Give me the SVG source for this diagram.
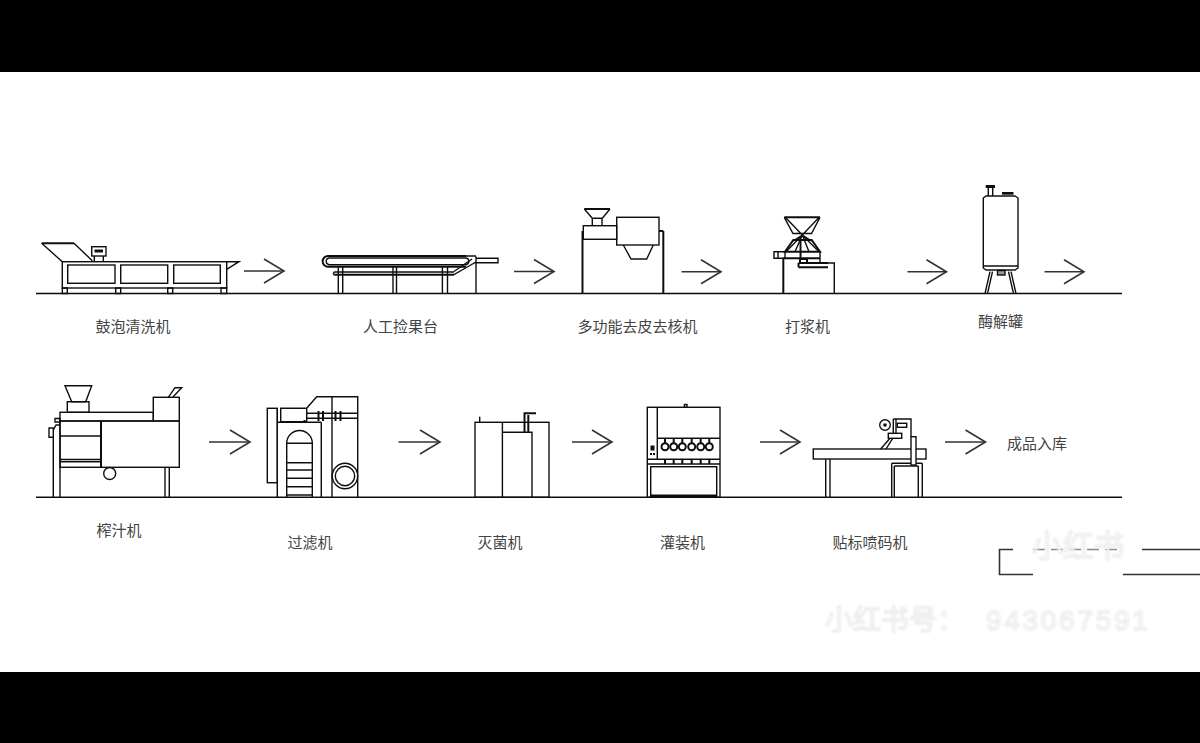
<svg xmlns="http://www.w3.org/2000/svg" width="1200" height="743" viewBox="0 0 1200 743">
<style>
.l{fill:none;stroke:#111;stroke-width:1.4;stroke-linejoin:miter}
.t{stroke-width:2}
.d{fill:#111;stroke:none}
.a{fill:none;stroke:#333;stroke-width:1.6}
.x{font-family:"Noto Sans CJK SC","Liberation Serif",sans-serif;font-size:15px;font-weight:400;fill:#444;text-anchor:middle}
.wm{font-family:"Liberation Sans","Noto Sans CJK SC",sans-serif;fill:#fff;stroke:#e2e2e2;stroke-width:1}
</style>
<defs>
<marker id="arr" markerUnits="userSpaceOnUse" markerWidth="26" markerHeight="30" viewBox="-23 -15 26 30" refX="0" refY="0" orient="auto">
<path d="M-20-12L0 0L-20 12" fill="none" stroke="#333" stroke-width="1.6"/>
</marker>
<filter id="soft" x="-2%" y="-2%" width="104%" height="104%"><feGaussianBlur stdDeviation="0.35"/></filter>
<filter id="softer" x="-5%" y="-20%" width="110%" height="140%"><feGaussianBlur stdDeviation="0.8"/></filter>
</defs>
<rect width="1200" height="743" fill="#fff"/>
<rect width="1200" height="72" fill="#000"/>
<rect y="672" width="1200" height="71" fill="#000"/>
<g filter="url(#soft)">
<g id="ground" class="l">
<path d="M36 293.5H1122M36 497.3H1122"/>
</g>
<g id="connectors" class="a">
<line x1="244" y1="271" x2="284" y2="271" marker-end="url(#arr)"/>
<line x1="514" y1="271.5" x2="554" y2="271.5" marker-end="url(#arr)"/>
<line x1="681.5" y1="271.7" x2="721" y2="271.7" marker-end="url(#arr)"/>
<line x1="907.5" y1="271.7" x2="946.5" y2="271.7" marker-end="url(#arr)"/>
<line x1="1044.5" y1="271.7" x2="1084" y2="271.7" marker-end="url(#arr)"/>
<line x1="209" y1="442" x2="250" y2="442" marker-end="url(#arr)"/>
<line x1="398.5" y1="442" x2="440" y2="442" marker-end="url(#arr)"/>
<line x1="572" y1="442" x2="612" y2="442" marker-end="url(#arr)"/>
<line x1="760" y1="442" x2="800" y2="442" marker-end="url(#arr)"/>
<line x1="945" y1="442" x2="985.5" y2="442" marker-end="url(#arr)"/>
</g>
<g id="washer" class="l">
<path class="t" d="M41.7 243.3H74"/>
<path d="M41.7 243.3L62.3 261.7M74 243.3L92.3 260.7"/>
<rect x="62.3" y="261.7" width="164.4" height="26.3"/>
<rect x="67.7" y="265" width="47.3" height="18.3"/>
<rect x="120.7" y="265" width="47" height="18.3"/>
<rect x="173.7" y="265" width="46.6" height="18.3"/>
<path d="M226.7 261.7H239L226.7 269.3"/>
<path d="M62.3 288h5v5.5h-5zM115.7 288h5v5.5h-5zM167.7 288h5v5.5h-5zM221 288h5.7v5.5H221z"/>
<rect x="91.7" y="246.7" width="14.3" height="9.3"/>
<path d="M94.3 256V261.7M103.3 256V261.7"/>
<rect class="d" x="94.5" y="249.5" width="8.5" height="3"/>
</g>
<g id="sorting-table" class="l">
<path class="t" d="M466 256H328a5.3 5.3 0 0 0 0 10.7H466"/>
<path d="M466 258H329a3.4 3.4 0 0 0 0 6.7H466a3.4 3.4 0 0 0 0-6.7"/>
<path d="M476 256.5V293.5M466 256H476M476 262L454 274.5H335M476 258.3H498V262.7H474M454 271.5L472 259M335 272H454M335 272a1.5 1.5 0 0 0 0 3H454"/>
<path d="M338.3 267V293.5M342.7 267V293.5M393 267V293.5M396.5 267V293.5M442.4 267V293.5M447.5 267V293.5"/>
</g>
<g id="peeler" class="l">
<path class="t" d="M584.3 209H610"/>
<path d="M584.3 209L592.3 218.3H602.3L610 209M592.3 218.3V225.7M602 218.3V225.7"/>
<rect x="583.3" y="225.7" width="33.4" height="13.6"/>
<rect x="616.7" y="217.3" width="42.3" height="27.7"/>
<path d="M623.3 245L631 259H646.7L653.3 245"/>
<path class="t" d="M582.5 231V293.5M663.3 231V293.5M659 231H663.3"/>
</g>
<g id="pulper" class="l">
<path class="t" d="M784.3 217.3H820"/>
<path d="M784.3 217.3L793 233.5H811.5L820 217.3M786 218L802.3 235L818.5 218M802.3 235L793 241M802.3 235L811.7 241M802.3 235L786 251.7M802.3 235L795 251.7M802.3 235L809 251.7M802.3 235L819 251.7"/>
<path class="t" d="M793.3 240H811.7L820 251.7H785ZM800.5 240V258M783.3 258.3H820M783.3 258.3V293.5"/>
<path d="M774 251.7H785V258.3H774ZM778 251.7V258.3M820 251.7V263M828 263H834.3V293.5"/>
<path class="t" d="M798.5 263H828M798.5 267.3H828M798.5 263V267.3M800 259H807V263H800Z"/>
</g>
<g id="enzyme-tank" class="l">
<path d="M983.3 198L986 196H1015L1018 198V268L1015 270H986L983.3 268Z"/>
<path d="M983.3 266H1018M988.3 188V196M992.7 188V196M990 271.7L985 293.5M992.5 271.7L987.5 293.5M1011 271.7L1016 293.5M1008.5 271.7L1013.5 293.5"/>
<rect class="d" x="985.7" y="185" width="9.3" height="3"/>
<rect class="d" x="1002" y="192" width="11.5" height="2.7"/>
<rect x="997.5" y="270.5" width="7.5" height="4.5" fill="#999"/>
</g>
<g id="juicer" class="l">
<path d="M65 385.7H91.7L85.7 401.7H71.7Z"/>
<rect x="67.3" y="401.7" width="21.7" height="10.6"/>
<rect x="60" y="412.3" width="93.3" height="8.7"/>
<rect x="153.3" y="397.3" width="26" height="23.7"/>
<path d="M168.3 397.3L175 387.7H181.7L172.7 397.3"/>
<rect x="60" y="421" width="119.3" height="46.3"/>
<path d="M60 436H101M60 459.5H101M60 461.7H101"/>
<path class="t" d="M101 421V467.3"/>
<circle cx="109.7" cy="473.5" r="6"/>
<path d="M165 467.3V497.3M169.3 467.3V497.3M53.3 437.5V497.3M60 421V497.3"/>
<path d="M49 428H53.3V437.3H49ZM53.3 430L56 425H60M55 422H60V418.5H55Z"/>
</g>
<g id="filter-machine" class="l">
<rect x="267.3" y="408.3" width="10" height="74.4"/>
<path d="M277.3 422.3H321.3M277.3 408V497.3M321.3 422.3V497.3"/>
<path d="M286.7 497.3V443.3A12.8 12.8 0 0 1 312.3 443.3V497.3M286.7 443.3H312.3M286.7 462.7H312.3M286.7 470H312.3M286.7 478.3H312.3M286.7 486.7H312.3M286.7 495H312.3"/>
<path d="M280.7 408.3H306.7V421.7H280.7ZM306.7 408.3L316.7 396.7H357.7V497.3M332 396.7V497.3M306.7 413.3H357.7M306.7 418.3H357.7"/>
<path class="t" d="M318.5 411V421M323 411V421M335.5 411V421M340.5 411V421"/>
<circle cx="345" cy="476" r="12.7"/>
<circle cx="345" cy="476" r="9.7"/>
<path class="t" d="M304.5 420V422.3"/>
</g>
<g id="sterilizer" class="l">
<rect x="475" y="422.3" width="74" height="75"/>
<path d="M502.4 422.3V497.3M502.4 432.3H532V497.3M479.7 416.7V422.3"/>
<path class="t" d="M524.5 432.3V413.3H536M528.3 432.3V415"/>
</g>
<g id="filler" class="l">
<rect x="647.3" y="407.3" width="72.7" height="90"/>
<path d="M657.3 407.3V459.3M657.3 438.3H720M647.3 459.3H720M647.3 464H720"/>
<rect x="650.7" y="466.7" width="66" height="30"/>
<path class="t" d="M650.7 495.5H716.7"/>
<rect x="684.4" y="404.5" width="2.6" height="2.8"/>
<g class="t">
<path d="M665 438.5V443M673.7 438.5V443M682.3 438.5V443M691.7 438.5V443M700.7 438.5V443M709.3 438.5V443M665 459.5V464M673.7 459.5V464M682.3 459.5V464M691.7 459.5V464M700.7 459.5V464M709.3 459.5V464"/>
<circle cx="665" cy="446.7" r="3.5"/><circle cx="673.7" cy="446.7" r="3.5"/><circle cx="682.3" cy="446.7" r="3.5"/><circle cx="691.7" cy="446.7" r="3.5"/><circle cx="700.7" cy="446.7" r="3.5"/><circle cx="709.3" cy="446.7" r="3.5"/>
</g>
<rect class="d" x="650.5" y="445.5" width="4" height="5"/>
<rect class="d" x="650" y="453" width="2" height="2"/>
<rect class="d" x="653" y="453" width="2" height="2"/>
</g>
<g id="labeler" class="l">
<rect x="813.3" y="449" width="112.7" height="10"/>
<path d="M825.7 459V497.3M830 459V497.3M891.7 463.3V497.3M894.3 466V497.3M918.3 466V497.3M922.3 463.3V497.3M891.7 463.3H922.3M894.3 466H918.3"/>
<path d="M893.3 419H911V436.7M893.3 419V433.3M896 419V433.3"/>
<rect x="911" y="436.7" width="5" height="28.3" fill="#fff"/>
<circle cx="885" cy="425" r="5.3"/>
<circle class="d" cx="885" cy="425" r="1.8"/>
<rect x="888.3" y="433.3" width="13.4" height="5" fill="#fff"/>
<rect x="897.3" y="423.3" width="9.4" height="4"/>
<path d="M880.7 449L890 438.3M886 449L892.7 438.3"/>
</g>
</g>
<g id="labels" class="x">
<text x="133" y="332">鼓泡清洗机</text>
<text x="400.5" y="332">人工捡果台</text>
<text x="637.5" y="332">多功能去皮去核机</text>
<text x="807.5" y="332">打浆机</text>
<text x="1000.5" y="327">酶解罐</text>
<text x="119" y="536">榨汁机</text>
<text x="310" y="548">过滤机</text>
<text x="500" y="548">灭菌机</text>
<text x="682.5" y="548">灌装机</text>
<text x="870" y="548">贴标喷码机</text>
<text x="1037" y="449">成品入库</text>
</g>
<g id="stamp">
<path d="M1200 549.5H1142M1013 549.5H999.5V574.5H1033M1123 574.5H1200" fill="none" stroke="#333" stroke-width="1.6"/>
<path d="M1033 549.5H1123" fill="none" stroke="#888" stroke-width="1.4" stroke-dasharray="12 6"/>
</g>
<g id="watermark" filter="url(#softer)">
<text class="wm" x="1078" y="557" font-size="31" text-anchor="middle">小红书</text>
<text class="wm" x="825" y="630" font-size="28">小红书号：</text>
<text class="wm" x="986" y="630" font-size="28" letter-spacing="2.7">943067591</text>
</g>
</svg>
